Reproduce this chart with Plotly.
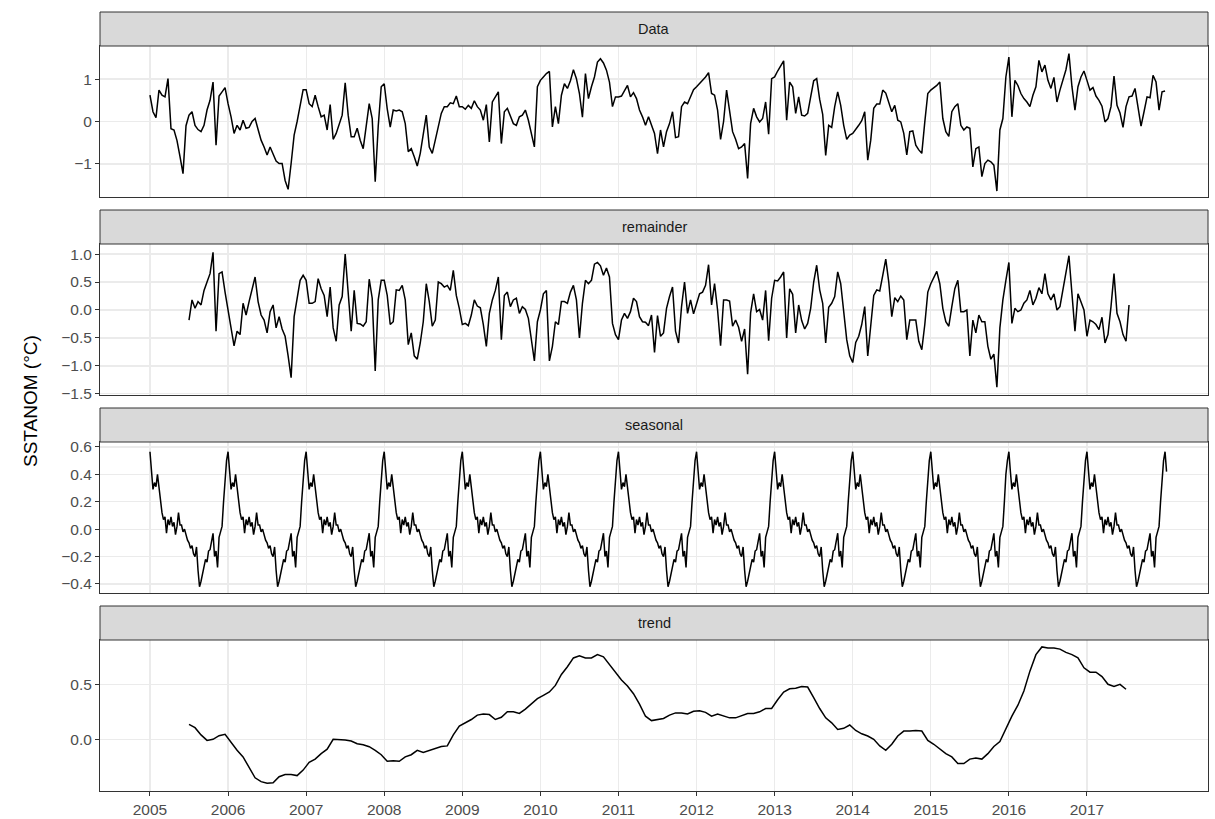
import plotly.graph_objects as go

W, H = 1215, 819

# ---------------- data ----------------
# "Data" panel: biweekly values starting 2005.0
data_2005 = [0.62, 0.23, 0.09, 0.74, 0.62, 0.58, 1.01, -0.17, -0.20, -0.45, -0.83, -1.23, -0.10, 0.15, 0.23, -0.09, -0.19, -0.24, -0.09, 0.27, 0.50, 0.93, -0.56, 0.60, 0.70, 0.80]
data_2006 = [0.42, 0.11, -0.28, -0.09, -0.20, 0.03, -0.16, -0.14, 0.00, 0.07, -0.19, -0.44, -0.60, -0.79, -0.60, -0.79, -0.93, -0.99, -0.99, -1.39, -1.60, -0.99, -0.32, 0.00, 0.35, 0.75]
data_2007 = [0.75, 0.42, 0.35, 0.62, 0.35, 0.11, 0.15, -0.20, 0.40, -0.42, -0.28, -0.09, 0.15, 0.91, 0.15, -0.36, -0.36, -0.16, -0.44, -0.64, -0.09, 0.42, 0.07, -1.42, -0.11, 0.82]
data_2008 = [0.89, 0.30, -0.13, 0.27, 0.25, 0.27, 0.23, -0.05, -0.71, -0.64, -0.83, -1.05, -0.75, -0.32, 0.15, -0.60, -0.75, -0.44, -0.16, 0.19, 0.35, 0.35, 0.44, 0.42, 0.60, 0.35]
data_2009 = [0.35, 0.29, 0.38, 0.31, 0.49, 0.35, 0.27, 0.03, 0.40, -0.48, 0.46, 0.58, 0.70, -0.52, 0.23, 0.31, 0.11, -0.05, -0.09, 0.11, 0.15, 0.27, 0.03, -0.32, -0.60, 0.82]
data_2010 = [0.97, 1.05, 1.13, 1.18, -0.13, 0.35, -0.05, 0.62, 0.89, 0.78, 0.96, 1.22, 1.01, 0.66, 0.10, 1.13, 0.54, 0.82, 1.05, 1.40, 1.48, 1.38, 1.21, 0.93, 0.35, 0.58]
data_2011 = [0.58, 0.60, 0.74, 0.85, 0.58, 0.68, 0.54, 0.27, 0.11, -0.09, 0.11, -0.09, -0.28, -0.76, -0.20, -0.60, -0.24, -0.05, 0.23, -0.38, -0.36, 0.35, 0.46, 0.42, 0.58, 0.75]
data_2012 = [0.82, 0.89, 0.97, 1.05, 1.15, 0.66, 0.62, 0.27, -0.42, 0.00, 0.74, 0.25, -0.24, -0.42, -0.64, -0.60, -0.52, -1.34, -0.05, 0.31, 0.11, -0.01, 0.07, 0.46, -0.30, 1.01]
data_2013 = [1.05, 1.19, 1.30, 1.43, 0.03, 0.93, 0.82, 0.19, 0.58, 0.15, 0.13, 0.19, 0.58, 0.96, 1.01, 0.52, 0.17, -0.80, -0.09, -0.14, 0.35, 0.70, 0.38, -0.09, -0.42, -0.32]
data_2014 = [-0.28, -0.19, -0.09, 0.02, 0.23, -0.91, -0.44, 0.31, 0.41, 0.41, 0.74, 0.67, 0.46, 0.23, 0.38, 0.03, -0.01, -0.28, -0.79, -0.24, -0.22, -0.56, -0.67, -0.75, -0.01, 0.66]
data_2015 = [0.74, 0.79, 0.85, 0.93, 0.07, -0.24, -0.35, 0.23, 0.35, 0.42, -0.09, -0.20, -0.13, -0.16, -1.07, -0.64, -0.60, -1.30, -0.99, -0.91, -0.95, -1.03, -1.64, -0.20, 0.07, 1.05]
data_2016 = [1.52, 0.11, 0.97, 0.85, 0.66, 0.54, 0.46, 0.35, 0.62, 0.82, 1.44, 1.17, 1.33, 0.97, 0.78, 1.04, 0.46, 0.74, 1.01, 1.22, 1.60, 0.82, 0.27, 0.82, 1.05, 1.19]
data_2017 = [0.97, 0.74, 0.80, 0.60, 0.50, 0.36, -0.01, 0.07, 0.35, 1.07, 0.38, 0.20, -0.14, 0.35, 0.58, 0.60, 0.78, 0.31, -0.11, 0.23, 0.58, 0.56, 1.09, 0.93, 0.27, 0.70]
data_2018 = [0.72]
data_start, data_per_year = 2005.0, 26

# "remainder" panel: biweekly values starting 2005.5
rem_2005 = [-0.18, 0.18, 0.03, 0.15, 0.09, 0.35, 0.50, 0.65, 1.03, -0.38, 0.65, 0.68, 0.32]
rem_2006 = [0.00, -0.26, -0.64, -0.38, -0.44, 0.12, -0.09, 0.15, 0.35, 0.59, 0.15, -0.09, -0.18, -0.41, -0.03, 0.09, -0.32, -0.12, -0.34, -0.47, -0.82, -1.21, -0.12, 0.18, 0.53, 0.62]
rem_2007 = [0.53, 0.12, 0.12, 0.15, 0.56, 0.38, 0.26, -0.12, 0.41, -0.32, -0.56, 0.09, 0.24, 1.00, 0.32, -0.38, 0.35, -0.24, -0.25, -0.29, -0.21, 0.55, 0.21, -1.09, 0.18, 0.53]
rem_2008 = [0.53, 0.26, -0.26, -0.21, 0.36, 0.35, 0.44, 0.18, -0.62, -0.41, -0.82, -0.88, -0.59, -0.21, 0.47, 0.15, -0.29, -0.18, 0.50, 0.47, 0.41, 0.44, 0.35, 0.71, 0.26, 0.03]
rem_2009 = [-0.26, -0.24, -0.28, -0.09, 0.18, 0.07, 0.04, -0.26, -0.65, -0.06, 0.18, 0.35, 0.59, -0.53, 0.26, 0.32, 0.06, 0.18, 0.21, -0.06, 0.06, 0.01, -0.15, -0.53, -0.91, -0.21]
rem_2010 = [0.00, 0.29, 0.35, -0.91, -0.65, -0.21, -0.26, 0.15, 0.15, 0.12, 0.32, 0.44, 0.18, -0.50, 0.12, 0.53, 0.47, 0.53, 0.82, 0.85, 0.79, 0.62, 0.75, 0.59, -0.24, -0.44]
rem_2011 = [-0.53, -0.18, -0.06, -0.15, -0.03, 0.21, 0.15, -0.12, -0.21, -0.22, -0.28, -0.09, -0.76, -0.10, -0.47, -0.41, 0.03, 0.24, 0.41, -0.38, -0.59, 0.06, 0.50, -0.06, 0.18, -0.07]
rem_2012 = [0.09, 0.29, 0.32, 0.44, 0.81, 0.09, 0.47, 0.00, -0.64, 0.18, 0.18, 0.16, -0.29, -0.18, -0.31, -0.56, -0.34, -1.15, -0.05, 0.29, -0.03, 0.01, -0.18, 0.35, -0.55, 0.21]
rem_2013 = [0.53, 0.52, 0.59, 0.68, -0.50, 0.38, 0.28, -0.41, 0.09, -0.19, -0.34, -0.24, 0.03, 0.50, 0.80, 0.36, 0.12, -0.59, 0.05, 0.12, 0.24, 0.68, 0.47, -0.06, -0.53, -0.82]
rem_2014 = [-0.94, -0.58, -0.47, -0.26, 0.06, -0.82, -0.29, 0.26, 0.36, 0.34, 0.62, 0.91, 0.50, -0.12, 0.22, 0.15, 0.25, 0.18, -0.53, -0.18, -0.18, -0.18, -0.56, -0.71, -0.26, 0.32]
rem_2015 = [0.47, 0.59, 0.69, 0.47, 0.03, -0.21, -0.29, 0.06, 0.38, 0.53, -0.03, -0.03, 0.00, -0.82, -0.18, -0.41, -0.09, -0.21, -0.21, -0.65, -0.88, -0.79, -1.38, -0.32, 0.18, 0.53]
rem_2016 = [0.85, -0.24, 0.03, -0.03, 0.00, 0.12, 0.18, 0.35, 0.09, 0.21, 0.40, 0.29, 0.65, 0.29, 0.18, 0.29, 0.00, 0.06, 0.38, 0.68, 0.97, 0.29, -0.38, 0.29, 0.15, 0.00]
rem_2017 = [-0.47, -0.18, -0.21, -0.26, -0.35, -0.13, -0.59, -0.44, 0.06, 0.65, -0.06, -0.21, -0.44, -0.56, 0.09]
rem_start, rem_per_year = 2005.5, 26

# "seasonal" panel: one year of weekly seasonal values (repeats every year)
season_week = [0.565, 0.42, 0.29, 0.34, 0.31, 0.40, 0.30, 0.24, 0.12, 0.07,
               0.09, -0.03, 0.07, 0.03, 0.09, 0.02, 0.05, -0.04, 0.02, 0.12,
               0.03, 0.03, -0.02, 0.00, -0.05, -0.08, -0.10, -0.14, -0.12, -0.18,
               -0.20, -0.13, -0.30, -0.42, -0.38, -0.33, -0.27, -0.22, -0.24, -0.16,
               -0.15, -0.09, -0.03, -0.20, -0.16, -0.28, -0.06, -0.02, 0.02, 0.20,
               0.40, 0.50]
season_years = 13
season_tail = 2          # the series runs two weeks into 2018
season_start, season_per_year = 2005.0, 52

# "trend" panel: values every four weeks starting 2005.5
trend_a = [0.136, 0.106, 0.04, -0.01, 0.0, 0.033, 0.045, -0.03, -0.10, -0.16,
           -0.25, -0.35, -0.385, -0.40, -0.395, -0.34, -0.32, -0.32, -0.33, -0.28,
           -0.21, -0.18, -0.13, -0.09, 0.0, 0.0, -0.006, -0.015, -0.04, -0.05,
           -0.067, -0.10, -0.14, -0.20, -0.195, -0.20, -0.16, -0.14, -0.10, -0.12,
           -0.10, -0.08, -0.065, -0.06, 0.04, 0.12, 0.15, 0.18, 0.22, 0.23,
           0.225, 0.18, 0.20, 0.25, 0.25, 0.235, 0.275, 0.325, 0.37, 0.40,
           0.43, 0.49, 0.59, 0.66, 0.74, 0.76, 0.74, 0.74, 0.77, 0.75,
           0.68, 0.61, 0.54, 0.485, 0.415, 0.32, 0.21, 0.17]
trend_b = [0.18, 0.19, 0.22, 0.24, 0.24, 0.23, 0.255, 0.26, 0.245, 0.21,
           0.23, 0.215, 0.195, 0.195, 0.215, 0.235, 0.235, 0.25, 0.28, 0.28,
           0.36, 0.43, 0.46, 0.465, 0.48, 0.475, 0.38, 0.28, 0.195, 0.15,
           0.09, 0.10, 0.13, 0.08, 0.05, 0.03, 0.0, -0.06, -0.10, -0.045,
           0.03, 0.075, 0.075, 0.08, 0.075, -0.01, -0.045, -0.09, -0.13, -0.16,
           -0.22, -0.22, -0.18, -0.17, -0.18, -0.13, -0.065, -0.02, 0.10, 0.21,
           0.31, 0.44, 0.62, 0.77, 0.84, 0.83, 0.83, 0.82, 0.79, 0.77,
           0.74, 0.65, 0.61, 0.61, 0.57, 0.50, 0.48, 0.50, 0.455]
trend_start, trend_per_year = 2005.5, 13

panel_names = ["Data", "remainder", "seasonal", "trend"]
year_ticks = list(range(2005, 2018))
y_ticks = [[-1, 0, 1],
           [-1.5, -1.0, -0.5, 0.0, 0.5, 1.0],
           [-0.4, -0.2, 0.0, 0.2, 0.4, 0.6],
           [0.0, 0.5]]
y_ticktext = [["\u22121", "0", "1"],
              ["\u22121.5", "\u22121.0", "\u22120.5", "0.0", "0.5", "1.0"],
              ["\u22120.4", "\u22120.2", "0.0", "0.2", "0.4", "0.6"],
              ["0.0", "0.5"]]
y_ranges = [[-1.78, 1.78], [-1.52, 1.18], [-0.466, 0.636], [-0.47, 0.903]]
x_range = [2004.36, 2018.55]

# ---------------- assemble series ----------------
data_vals = (data_2005 + data_2006 + data_2007 + data_2008 + data_2009 + data_2010 +
             data_2011 + data_2012 + data_2013 + data_2014 + data_2015 + data_2016 +
             data_2017 + data_2018)
rem_vals = (rem_2005 + rem_2006 + rem_2007 + rem_2008 + rem_2009 + rem_2010 + rem_2011 +
            rem_2012 + rem_2013 + rem_2014 + rem_2015 + rem_2016 + rem_2017)
season_vals = season_week * season_years + season_week[:season_tail]
trend_vals = trend_a + trend_b

def times(start, per_year, n):
    return [start + i / per_year for i in range(n)]

series = [
    (times(data_start, data_per_year, len(data_vals)), data_vals),
    (times(rem_start, rem_per_year, len(rem_vals)), rem_vals),
    (times(season_start, season_per_year, len(season_vals)), season_vals),
    (times(trend_start, trend_per_year, len(trend_vals)), trend_vals),
]

# ---------------- figure ----------------
FONT = "Liberation Sans, Arial, Helvetica, sans-serif"
LEFT, RIGHT = 100, 1208
STRIP_TOP0, STRIP_H, PLOT_H, PERIOD = 12, 34, 151, 198

fig = go.Figure()
layout = dict(
    width=W, height=H,
    margin=dict(l=0, r=0, t=0, b=0),
    paper_bgcolor="white", plot_bgcolor="white",
    showlegend=False,
    font=dict(family=FONT),
    shapes=[], annotations=[],
)

for k in range(4):
    xs, ys = series[k]
    xid = "x" if k == 0 else f"x{k + 1}"
    yid = "y" if k == 0 else f"y{k + 1}"
    fig.add_trace(go.Scatter(x=xs, y=ys, mode="lines", xaxis=xid, yaxis=yid,
                             line=dict(color="black", width=1.5), hoverinfo="skip"))
    strip_top = STRIP_TOP0 + PERIOD * k
    plot_top = strip_top + STRIP_H
    plot_bot = plot_top + PLOT_H
    xkey = "xaxis" if k == 0 else f"xaxis{k + 1}"
    ykey = "yaxis" if k == 0 else f"yaxis{k + 1}"
    bottom = (k == 3)
    layout[xkey] = dict(
        domain=[LEFT / W, RIGHT / W], range=x_range, anchor=yid,
        tickmode="array", tickvals=year_ticks, ticktext=[str(y) for y in year_ticks],
        showticklabels=bottom, ticks="outside" if bottom else "", ticklen=4,
        tickcolor="#333333", tickwidth=1,
        tickfont=dict(size=15.5, color="#4D4D4D", family=FONT),
        showgrid=True, gridcolor="#EBEBEB", gridwidth=1.2,
        zeroline=False, showline=True, mirror=True, linecolor="#333333", linewidth=1,
        automargin=False,
    )
    layout[ykey] = dict(
        domain=[1 - plot_bot / H, 1 - plot_top / H], range=y_ranges[k], anchor=xid,
        tickmode="array", tickvals=y_ticks[k], ticktext=y_ticktext[k],
        ticks="outside", ticklen=4, tickcolor="#333333", tickwidth=1,
        tickfont=dict(size=15.5, color="#4D4D4D", family=FONT),
        showgrid=True, gridcolor="#EBEBEB", gridwidth=1.2,
        zeroline=False, showline=True, mirror=True, linecolor="#333333", linewidth=1,
        automargin=False,
    )
    layout["shapes"].append(dict(
        type="rect", xref="paper", yref="paper",
        x0=LEFT / W, x1=RIGHT / W, y0=1 - plot_top / H, y1=1 - strip_top / H,
        fillcolor="#D9D9D9", line=dict(color="#333333", width=1), layer="above",
    ))
    layout["annotations"].append(dict(
        xref="paper", yref="paper", x=(LEFT + RIGHT) / 2 / W,
        y=1 - (strip_top + STRIP_H / 2) / H, text=panel_names[k], showarrow=False,
        xanchor="center", yanchor="middle",
        font=dict(size=14.5, color="#1A1A1A", family=FONT),
    ))

layout["annotations"].append(dict(
    xref="paper", yref="paper", x=30 / W, y=1 - 401 / H, text="SSTANOM (\u00b0C)",
    showarrow=False, textangle=-90, xanchor="center", yanchor="middle",
    font=dict(size=19, color="black", family=FONT),
))

fig.update_layout(**layout)
fig.write_html(
    "out.html",
    config={"displayModeBar": False, "staticPlot": True},
    post_script="document.body.style.margin='0';document.body.style.padding='0';"
                "document.body.style.overflow='hidden';",
)
